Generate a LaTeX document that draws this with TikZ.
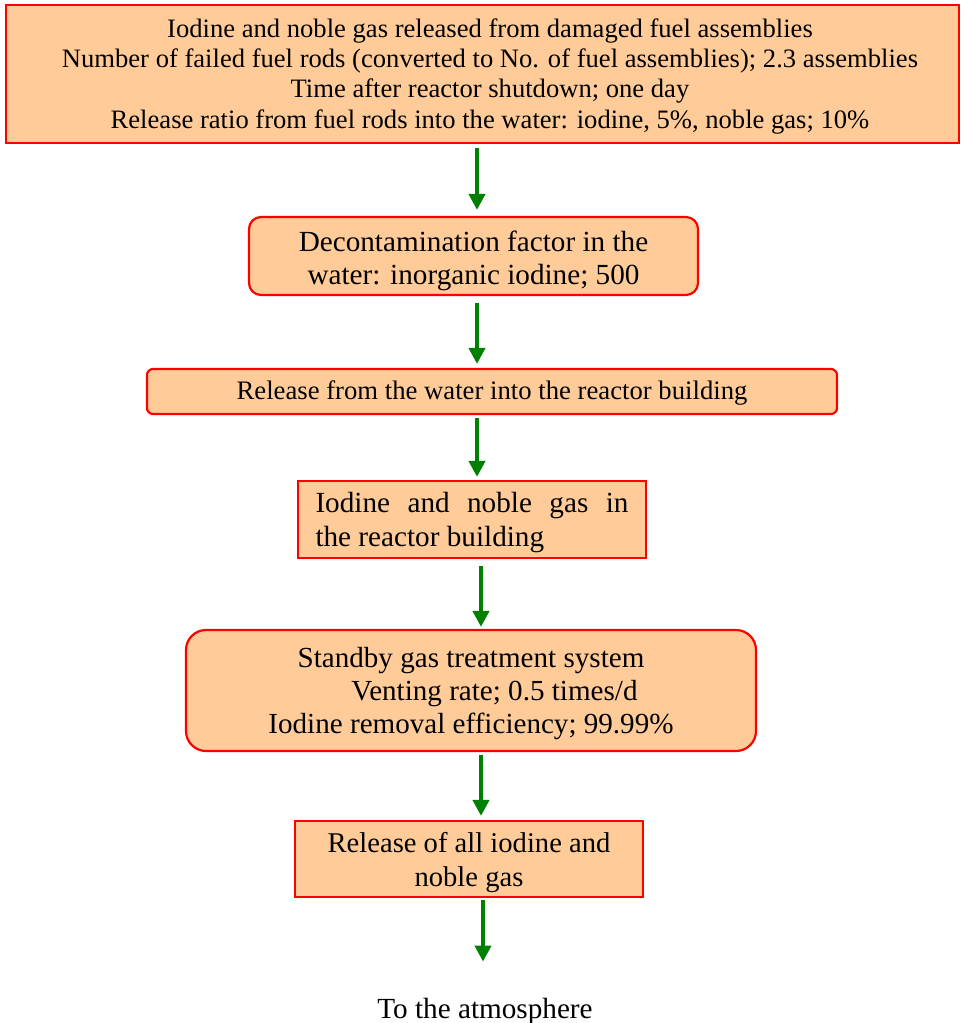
\documentclass[tikz,border=0pt]{standalone}
\usepackage{fontspec}
\setmainfont{Liberation Serif}
\usetikzlibrary{arrows.meta,calc}
\definecolor{peach}{RGB}{255,204,153}
\definecolor{boxred}{RGB}{255,0,0}
\definecolor{arrgreen}{RGB}{0,128,0}
\newcommand{\topstrut}[1]{\rule{0pt}{#1}}
\newcommand{\indentline}{\hspace*{15pt}}
\begin{document}
\begin{tikzpicture}[x=1pt,y=-1pt,
  box/.style={draw=boxred,fill=peach,line width=2.2pt,inner sep=0pt,align=center,text=black},
  flow/.style={draw=arrgreen,line width=4pt,-{Triangle[width=16pt,length=16pt]}}]
\useasboundingbox (0,0) rectangle (963,1023);
\node[box,minimum width=953pt,minimum height=138pt,font=\fontsize{26.6}{30.3}\selectfont] (b1) at (482.5,74)
  {\topstrut{23.2pt}\indentline Iodine and noble gas released from damaged fuel assemblies\\
   \indentline Number of failed fuel rods (converted to No. of fuel assemblies); 2.3 assemblies\\
   \indentline Time after reactor shutdown; one day\\
   \indentline Release ratio from fuel rods into the water: iodine, 5\%, noble gas; 10\%};
\node[box,rounded corners=12pt,minimum width=449pt,minimum height=78pt,font=\fontsize{29.2}{33}\selectfont] (b2) at (473.5,256)
  {\topstrut{29.5pt}Decontamination factor in the\\ water: inorganic iodine; 500};
\node[box,rounded corners=6pt,minimum width=690pt,minimum height=45pt,font=\fontsize{26.7}{30}\selectfont] (b3) at (492,391.5)
  {\topstrut{22.2pt}Release from the water into the reactor building};
\node[box,minimum width=348pt,minimum height=77pt,align=left,font=\fontsize{29.2}{34}\selectfont] (b4) at (472,519.5)
  {\topstrut{27pt}\makebox[313pt][s]{Iodine and noble gas in}\\the reactor building\hspace{84pt}};
\node[box,rounded corners=20pt,minimum width=570pt,minimum height=121pt,font=\fontsize{29.1}{33}\selectfont] (b5) at (471,690.5)
  {\topstrut{27pt}Standby gas treatment system\\
   \hspace{47pt}Venting rate; 0.5 times/d\\
   Iodine removal efficiency; 99.99\%};
\node[box,minimum width=348pt,minimum height=76pt,font=\fontsize{28.6}{34}\selectfont] (b6) at (469,859)
  {\topstrut{27.5pt}Release of all iodine and\\ noble gas};
\node[inner sep=0pt,font=\fontsize{29.2}{30}\selectfont] (t7) at (485,1011) {To the atmosphere};
\draw[flow] ($(b1.south)+(-5.5,4)$) -- ($(b2.north)+(3.5,-6)$);
\draw[flow] ($(b2.south)+(3.5,7)$) -- ($(b3.north)+(-15,-4)$);
\draw[flow] ($(b3.south)+(-15,3)$) -- ($(b4.north)+(5,-3)$);
\draw[flow] ($(b4.south)+(9,7)$) -- ($(b5.north)+(10,-2)$);
\draw[flow] ($(b5.south)+(10,3)$) -- ($(b6.north)+(12,-4)$);
\draw[flow] ($(b6.south)+(14,2)$) -- ($(t7.north)+(-2,-36)$);
\end{tikzpicture}
\end{document}
